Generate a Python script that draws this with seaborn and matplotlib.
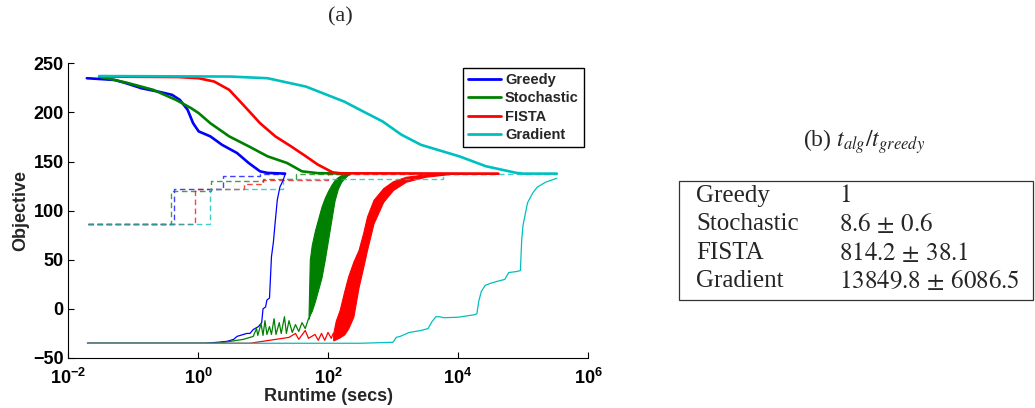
import numpy as np
import pandas as pd
import matplotlib
matplotlib.use("Agg")
import matplotlib.pyplot as plt
import seaborn as sns
from matplotlib.patches import Rectangle

# ---------------- data (runtime given as log10 seconds, objective values) ----------------
algorithms = ["Greedy", "Stochastic", "FISTA", "Gradient"]
colors = {"Greedy": "#0000ff", "Stochastic": "#008000", "FISTA": "#ff0000", "Gradient": "#00bfbf"}

# upper (decreasing) curves
greedy_top_log10t = [-1.71, -1.46, -1.28, -1.105, -0.87, -0.6, -0.4, -0.28, -0.16, -0.075, 0.01, 0.19, 0.37, 0.6, 0.78, 0.955, 1.07, 1.34]
greedy_top_obj = [234.8, 233.8, 233.0, 229.7, 224.6, 221.0, 217.9, 212.8, 202.7, 189.0, 180.7, 175.6, 167.0, 158.7, 148.5, 140.0, 138.4, 137.7]
stoch_top_log10t = [-1.52, -1.105, -0.69, -0.34, -0.105, 0.01, 0.19, 0.48, 0.78, 1.07, 1.37, 1.6, 1.84, 2.34]
stoch_top_obj = [236.5, 230.4, 223.0, 212.8, 204.3, 199.3, 189.0, 175.6, 165.5, 155.3, 148.5, 140.0, 138.2, 137.7]
fista_top_log10t = [-1.52, -0.3, 0.01, 0.25, 0.48, 0.72, 0.955, 1.19, 1.43, 1.66, 1.84, 2.07, 2.2, 4.62]
fista_top_obj = [236.5, 236.0, 234.8, 231.4, 223.0, 206.0, 189.0, 175.6, 165.5, 155.3, 147.0, 139.0, 138.0, 137.7]
grad_top_log10t = [-1.52, 0.5, 1.07, 1.66, 2.25, 2.54, 2.84, 3.13, 3.43, 4.02, 4.43, 4.9, 5.0, 5.52]
grad_top_obj = [237.0, 236.5, 234.8, 226.3, 211.0, 201.0, 190.8, 177.3, 167.0, 155.3, 145.2, 138.4, 137.7, 137.7]

# lower (increasing) curves
greedy_low_log10t = [-1.7, 0.1, 0.3, 0.45, 0.55, 0.6, 0.65, 0.75, 0.8, 0.85, 0.93, 0.98, 1.0, 1.04, 1.06, 1.1, 1.13, 1.16, 1.19, 1.22, 1.26, 1.31, 1.34]
greedy_low_obj = [-35, -35, -34, -33, -31, -28, -27, -25, -25, -21, -18, -14, 0, 2, 9, 11, 53, 68, 90, 111, 124, 131, 137]
stoch_low_log10t = [-1.7, 0.3, 0.5, 0.7, 0.85, 0.9, 0.92, 0.97, 1.0, 1.03, 1.06, 1.1, 1.13, 1.17, 1.2, 1.25, 1.28, 1.33, 1.36, 1.4, 1.45, 1.5, 1.55, 1.6, 1.65, 1.7]
stoch_low_obj = [-35, -35, -33, -31, -28, -20, -27, -15, -27, -12, -26, -18, -26, -10, -26, -14, -25, -8, -25, -12, -24, -16, -23, -14, -20, -10]
fista_low_log10t = [-1.7, 0.8, 1.0, 1.2, 1.4, 1.5, 1.55, 1.65, 1.7, 1.8, 1.85, 1.9, 1.95, 2.0, 2.05, 2.08]
fista_low_obj = [-35, -35, -33, -31, -29, -25, -31, -22, -30, -26, -32, -25, -32, -24, -30, -25]
grad_low_log10t = [-1.7, 2.5, 3.0, 3.05, 3.11, 3.25, 3.43, 3.54, 3.6, 3.66, 3.72, 3.78, 4.0, 4.25, 4.29, 4.32, 4.36, 4.42, 4.5, 4.6, 4.72, 4.78, 4.9, 4.96, 4.98, 5.0, 5.07, 5.15, 5.22, 5.35, 5.52]
grad_low_obj = [-35, -35, -34, -29, -28, -24, -22, -20, -13, -8, -8, -9, -8.5, -6, -5, 8, 18, 24, 26, 28, 30, 37, 38, 39, 70, 85, 108, 118, 124, 129, 133]

# oscillating bands (envelopes)
stoch_band_log10t = [1.70, 1.72, 1.75, 1.80, 1.85, 1.90, 1.95, 2.00, 2.05, 2.10, 2.15, 2.20, 2.25, 2.30, 2.34]
stoch_band_upper = [-8, 50, 65, 80, 92, 104, 113, 120, 126, 131, 134, 136, 137, 137.5, 137.5]
stoch_band_lower = [-10, -6, -2, 8, 20, 32, 50, 70, 90, 110, 122, 129, 133, 136, 137.5]
fista_band_log10t = [2.08, 2.12, 2.18, 2.25, 2.31, 2.39, 2.47, 2.54, 2.60, 2.70, 2.85, 3.00, 3.20, 3.50, 3.90, 4.62]
fista_band_upper = [-25, -12, -1, 18, 33, 48, 60, 77, 94, 111, 123, 130, 134.5, 137, 137.5, 137.7]
fista_band_lower = [-32, -31, -29, -26, -20, -8, 22, 42, 60, 87, 109, 121, 129.5, 134.5, 137.5, 137.7]

# dashed step curves
greedy_dash_log10t = [-1.7, -0.37, 0.38, 0.95, 1.34]
greedy_dash_obj = [86, 122.5, 135.5, 137.5, 137.5]
stoch_dash_log10t = [-1.7, -0.42, 0.2, 1.0, 1.5, 2.34]
stoch_dash_obj = [86, 119.5, 130.5, 132, 137.5, 137.5]
fista_dash_log10t = [-1.7, -0.04, 0.7, 1.0, 2.0, 4.62]
fista_dash_obj = [86, 122.5, 127, 131.5, 137.5, 137.5]
grad_dash_log10t = [-1.7, 0.19, 1.3, 3.77, 5.52]
grad_dash_obj = [86, 122.5, 132.2, 137.5, 137.5]

# axis ticks
xtick_exponents = [-2, 0, 2, 4, 6]
yticks = [-50, 0, 50, 100, 150, 200, 250]

# table
table_names = ["Greedy", "Stochastic", "FISTA", "Gradient"]
table_values = [r"$1$", r"$8.6 \,\pm\, 0.6$", r"$814.2 \,\pm\, 38.1$", r"$13849.8 \,\pm\, 6086.5$"]

# ---------------- styling ----------------
sns.set_style("ticks")
plt.rcParams["font.family"] = ["Liberation Sans", "DejaVu Sans"]
plt.rcParams["mathtext.fontset"] = "custom"
plt.rcParams["mathtext.rm"] = "Liberation Sans:bold"
plt.rcParams["mathtext.bf"] = "Liberation Sans:bold"
plt.rcParams["mathtext.it"] = "Liberation Sans:bold"

W, H = 1035, 408
fig = plt.figure(figsize=(W / 100, H / 100), dpi=100)
ax = fig.add_axes([68 / W, 1 - 358 / H, 520 / W, (358 - 63.3) / H])
ax.set_xscale("log")


def frame(logt, obj, name):
    return pd.DataFrame({"t": 10 ** np.asarray(logt, float), "obj": obj, "alg": name})


dash_style = (0, (4, 2.5))
for name, lt, ob in [("Greedy", greedy_dash_log10t, greedy_dash_obj),
                     ("Stochastic", stoch_dash_log10t, stoch_dash_obj),
                     ("FISTA", fista_dash_log10t, fista_dash_obj),
                     ("Gradient", grad_dash_log10t, grad_dash_obj)]:
    sns.lineplot(data=frame(lt, ob, name), x="t", y="obj", color=colors[name], lw=1.0,
                 linestyle=dash_style, drawstyle="steps-post", alpha=0.75,
                 estimator=None, legend=False, ax=ax)

for name, lt, ob in [("Greedy", greedy_low_log10t, greedy_low_obj),
                     ("Stochastic", stoch_low_log10t, stoch_low_obj),
                     ("FISTA", fista_low_log10t, fista_low_obj),
                     ("Gradient", grad_low_log10t, grad_low_obj)]:
    sns.lineplot(data=frame(lt, ob, name), x="t", y="obj", color=colors[name], lw=0.9,
                 estimator=None, legend=False, ax=ax)

for name, lt, up, lo in [("Stochastic", stoch_band_log10t, stoch_band_upper, stoch_band_lower),
                         ("FISTA", fista_band_log10t, fista_band_upper, fista_band_lower)]:
    tt = 10 ** np.asarray(lt, float)
    ax.fill_between(tt, lo, up, color=colors[name], lw=0.8, edgecolor=colors[name])

top = pd.concat([frame(greedy_top_log10t, greedy_top_obj, "Greedy"),
                 frame(stoch_top_log10t, stoch_top_obj, "Stochastic"),
                 frame(fista_top_log10t, fista_top_obj, "FISTA"),
                 frame(grad_top_log10t, grad_top_obj, "Gradient")], ignore_index=True)
sns.lineplot(data=top, x="t", y="obj", hue="alg", hue_order=algorithms, palette=colors,
             lw=1.9, estimator=None, ax=ax)

ax.set_xlim(1e-2, 1e6)
ax.set_ylim(-50, 250)
ax.set_xticks([10.0 ** e for e in xtick_exponents])
ax.set_xticklabels([r"$\mathbf{10^{%d}}$" % e for e in xtick_exponents])
ax.xaxis.set_minor_locator(matplotlib.ticker.NullLocator())
ax.set_yticks(yticks)
ax.set_yticklabels([str(v).replace("-", "\u2212") for v in yticks])
ax.tick_params(direction="in", length=4, width=0.8, labelsize=13, pad=3, colors="black")
ax.tick_params(axis="x", pad=7)
for lab in ax.get_yticklabels():
    lab.set_fontweight("bold")
for s in ["top", "right"]:
    ax.spines[s].set_visible(False)
for s in ["left", "bottom"]:
    ax.spines[s].set_linewidth(0.8)
    ax.spines[s].set_color("black")
ax.set_xlabel("Runtime (secs)", fontsize=13, fontweight="bold", labelpad=0)
ax.set_ylabel("Objective", fontsize=13, fontweight="bold", labelpad=3)

leg = ax.legend(loc="upper right", bbox_to_anchor=(0.992, 0.984), borderaxespad=0,
                frameon=True, fancybox=False, framealpha=1, edgecolor="black",
                prop={"weight": "bold", "size": 10.5}, handlelength=2.3,
                labelspacing=0.3, handletextpad=0.25, borderpad=0.35)
leg.get_frame().set_linewidth(1.0)
for line in leg.get_lines():
    line.set_linewidth(2.0)

# captions
fig.text(340 / W, 1 - 17 / H, "(a)", family="Liberation Serif", fontsize=16,
         ha="center", va="center")
fig.text(864 / W, 1 - 142 / H, r"(b) $t_{alg}/t_{greedy}$", family="Liberation Serif",
         math_fontfamily="stix", fontsize=17, ha="center", va="center")

# table
fig.patches.append(Rectangle((679 / W, 1 - 300 / H), (1033 - 679) / W, (300 - 181) / H,
                             transform=fig.transFigure, fill=False, edgecolor="#333333",
                             lw=0.9))
row_y = [196, 224, 253, 281]
for yy, nm, val in zip(row_y, table_names, table_values):
    fig.text(696 / W, 1 - yy / H, nm, family="Liberation Serif", fontsize=18,
             ha="left", va="center")
    fig.text(839 / W, 1 - yy / H, val, family="Liberation Serif", math_fontfamily="stix",
             fontsize=18, ha="left", va="center")

fig.savefig("out.png", dpi=100)
